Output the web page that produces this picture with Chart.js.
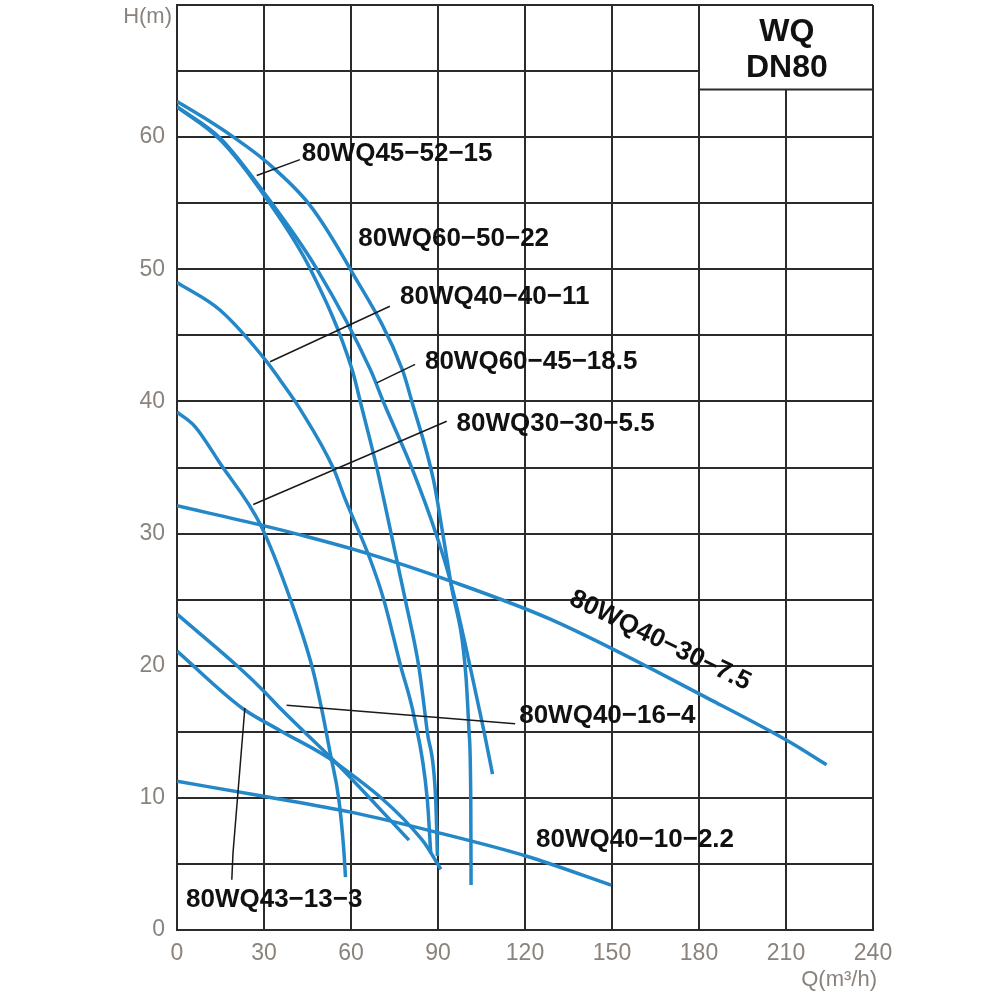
<!DOCTYPE html>
<html>
<head>
<meta charset="utf-8">
<script src="https://cdn.jsdelivr.net/npm/chart.js@4.4.1/dist/chart.umd.min.js"></script>
<style>
  html, body { margin: 0; padding: 0; background: #fff; }
  #wrap { width: 1000px; height: 1000px; }
</style>
</head>
<body>
<div id="wrap"><canvas id="chart"></canvas></div>
<script>
// Q (m3/h) / H (m) points
const q45_52_15 = [0, 14.9, 31, 46, 60.4, 63.3, 69, 71.3, 78.8, 83.4, 86.3, 89.2, 89.8];
const h45_52_15 = [62.3, 59.8, 55.3, 50.0, 42.4, 39.9, 34.9, 32.6, 24.9, 19.9, 15.0, 9.9, 5.6];

const q60_50_22 = [0, 9.1, 19.5, 31, 46, 59.8, 77.7, 81.1, 88.4, 91.8, 94.4, 99.6, 100.7, 101.3, 101.4];
const h60_50_22 = [62.7, 61.5, 60.0, 58.1, 54.8, 50.0, 42.4, 39.9, 34.1, 29.8, 26.3, 19.3, 15.0, 9.9, 3.4];

const q60_45_18 = [0, 15, 31, 48.3, 66.7, 71.3, 81.1, 89.6, 94.4, 101.5, 105.9, 108.8];
const h60_45_18 = [62.3, 59.9, 55.5, 50.0, 42.4, 39.9, 34.9, 29.8, 26.3, 19.5, 15.0, 11.8];

const q40_40_11 = [0, 14.9, 31, 35.6, 42.5, 54, 58, 66.7, 71.3, 77.1, 81.7, 86.3, 87.5];
const h40_40_11 = [49.0, 46.9, 43.0, 41.6, 39.4, 34.9, 32.6, 28.0, 25.0, 20.0, 16.2, 9.9, 5.8];

const q30_30_5 = [0, 6.2, 14.9, 28.7, 39.3, 46.6, 50, 52.9, 55.8, 57.5, 58.1];
const h30_30_5 = [39.2, 38.1, 35.3, 30.7, 24.9, 19.9, 16.6, 13.3, 9.9, 6.1, 4.0];

const q40_30_7 = [0, 29.8, 42.5, 65.6, 94.4, 128.9, 184.2, 210.7, 224];
const h40_30_7 = [32.1, 30.6, 29.9, 28.5, 26.4, 23.5, 17.4, 14.3, 12.5];

const q40_16_4 = [0, 21.2, 30.3, 35.5, 55.1, 80];
const h40_16_4 = [23.9, 19.9, 18.0, 16.8, 12.6, 6.8];

const q43_13_3 = [0, 22.4, 35.5, 55.1, 84.6, 91];
const h43_13_3 = [21.1, 16.8, 15.1, 12.6, 6.8, 4.6];

const q40_10_2 = [0, 30.4, 60.4, 90.3, 120.3, 149.7];
const h40_10_2 = [11.25, 10.1, 8.9, 7.35, 5.6, 3.4];

const xTicks = [0, 30, 60, 90, 120, 150, 180, 210, 240];
const yTickLabels = [0, 10, 20, 30, 40, 50, 60];

// curve names and where their labels / leader lines sit (data units)
const curveLabels = [
  { text: '80WQ45−52−15',  at: [43.0, 58.7], leader: [[42.4, 58.3], [27.5, 57.1]] },
  { text: '80WQ60−50−22',  at: [62.5, 52.3] },
  { text: '80WQ40−40−11',  at: [76.9, 47.9], leader: [[73.4, 47.2], [32.1, 43.0]] },
  { text: '80WQ60−45−18.5', at: [85.5, 43.0], leader: [[82.1, 42.8], [68.9, 41.4]] },
  { text: '80WQ30−30−5.5', at: [96.4, 38.3], leader: [[93.0, 38.5], [26.3, 32.2]] },
  { text: '80WQ40−30−7.5', at: [166.6, 21.9], angle: 26, center: true },
  { text: '80WQ40−16−4',   at: [118.0, 16.2], leader: [[116.6, 15.6], [37.8, 17.0]] },
  { text: '80WQ40−10−2.2', at: [123.8, 6.8] },
  { text: '80WQ43−13−3',   at: [3.1, 2.3], leader: [[23.4, 16.8], [19.3, 5.8], [18.9, 3.8]] }
];

const boxBottom = 63.6;
const gridColor = '#2b2b2b';
const tickColor = '#8a837d';
const blue = '#2387c8';
const font = "'Liberation Sans', Arial, sans-serif";

function pts(q, h) {
  return q.map((v, i) => ({ x: v, y: h[i] }));
}

function curve(name, q, h) {
  return {
    label: name,
    data: pts(q, h),
    showLine: true,
    borderColor: blue,
    borderWidth: 3.5,
    pointRadius: 0,
    cubicInterpolationMode: 'monotone',
    fill: false
  };
}

function noPad(s) {
  s.paddingTop = 0;
  s.paddingBottom = 0;
  s.paddingLeft = 0;
  s.paddingRight = 0;
}

const annot = {
  id: 'annot',
  beforeDatasetsDraw(chart) {
    const { ctx, scales: { x, y } } = chart;
    ctx.save();
    ctx.strokeStyle = gridColor;
    ctx.lineWidth = 2;
    ctx.beginPath();
    ctx.moveTo(x.getPixelForValue(0), y.getPixelForValue(65));
    ctx.lineTo(x.getPixelForValue(180), y.getPixelForValue(65));
    ctx.moveTo(x.getPixelForValue(180), y.getPixelForValue(boxBottom));
    ctx.lineTo(x.getPixelForValue(240), y.getPixelForValue(boxBottom));
    ctx.moveTo(x.getPixelForValue(210), y.getPixelForValue(0));
    ctx.lineTo(x.getPixelForValue(210), y.getPixelForValue(boxBottom));
    ctx.stroke();

    ctx.fillStyle = '#111';
    ctx.font = 'bold 32px ' + font;
    ctx.textAlign = 'center';
    ctx.textBaseline = 'middle';
    ctx.fillText('WQ', x.getPixelForValue(210.3), y.getPixelForValue(67.95));
    ctx.fillText('DN80', x.getPixelForValue(210.3), y.getPixelForValue(65.2));

    ctx.fillStyle = tickColor;
    ctx.font = '22px ' + font;
    ctx.textAlign = 'right';
    ctx.fillText('H(m)', chart.chartArea.left - 5, y.getPixelForValue(70) + 12);
    ctx.fillText('Q(m³/h)', chart.chartArea.right + 4, chart.chartArea.bottom + 50);
    ctx.restore();
  },
  afterDatasetsDraw(chart) {
    const { ctx, scales: { x, y } } = chart;
    ctx.save();
    ctx.strokeStyle = '#1a1a1a';
    ctx.lineWidth = 1.5;
    curveLabels.forEach(l => {
      if (!l.leader) return;
      ctx.beginPath();
      l.leader.forEach((p, i) => {
        const px = x.getPixelForValue(p[0]), py = y.getPixelForValue(p[1]);
        if (i === 0) ctx.moveTo(px, py); else ctx.lineTo(px, py);
      });
      ctx.stroke();
    });
    ctx.fillStyle = '#111';
    ctx.font = 'bold 26px ' + font;
    ctx.textBaseline = 'middle';
    curveLabels.forEach(l => {
      const px = x.getPixelForValue(l.at[0]), py = y.getPixelForValue(l.at[1]);
      ctx.save();
      ctx.translate(px, py);
      if (l.angle) ctx.rotate(l.angle * Math.PI / 180);
      ctx.textAlign = l.center ? 'center' : 'left';
      ctx.fillText(l.text, 0, 0);
      ctx.restore();
    });
    ctx.restore();
  }
};

new Chart(document.getElementById('chart'), {
  type: 'scatter',
  data: {
    datasets: [
      curve('80WQ45-52-15', q45_52_15, h45_52_15),
      curve('80WQ60-50-22', q60_50_22, h60_50_22),
      curve('80WQ60-45-18.5', q60_45_18, h60_45_18),
      curve('80WQ40-40-11', q40_40_11, h40_40_11),
      curve('80WQ30-30-5.5', q30_30_5, h30_30_5),
      curve('80WQ40-30-7.5', q40_30_7, h40_30_7),
      curve('80WQ40-16-4', q40_16_4, h40_16_4),
      curve('80WQ43-13-3', q43_13_3, h43_13_3),
      curve('80WQ40-10-2.2', q40_10_2, h40_10_2)
    ]
  },
  options: {
    responsive: true,
    maintainAspectRatio: false,
    animation: false,
    layout: { padding: { left: 0, top: 5, right: 127, bottom: 0 } },
    plugins: { legend: { display: false }, tooltip: { enabled: false } },
    scales: {
      x: {
        type: 'linear',
        min: 0,
        max: 240,
        afterBuildTicks: s => { s.ticks = xTicks.map(v => ({ value: v })); },
        afterFit: s => { s.height = 70; noPad(s); },
        ticks: { color: tickColor, font: { family: font, size: 23 }, padding: 10, maxRotation: 0 },
        grid: {
          color: c => (c.tick && c.tick.value === 210) ? 'rgba(0,0,0,0)' : gridColor,
          lineWidth: 2,
          drawTicks: false
        },
        border: { color: gridColor, width: 2 }
      },
      y: {
        type: 'linear',
        min: 0,
        max: 70,
        ticks: {
          stepSize: 5,
          color: tickColor,
          font: { family: font, size: 23 },
          padding: 12,
          callback: v => yTickLabels.includes(v) ? String(v) : ''
        },
        afterFit: s => { s.width = 177; noPad(s); },
        grid: {
          color: c => (c.tick && c.tick.value === 65) ? 'rgba(0,0,0,0)' : gridColor,
          lineWidth: 2,
          drawTicks: false
        },
        border: { color: gridColor, width: 2 }
      }
    }
  },
  plugins: [annot]
});
</script>
</body>
</html>
